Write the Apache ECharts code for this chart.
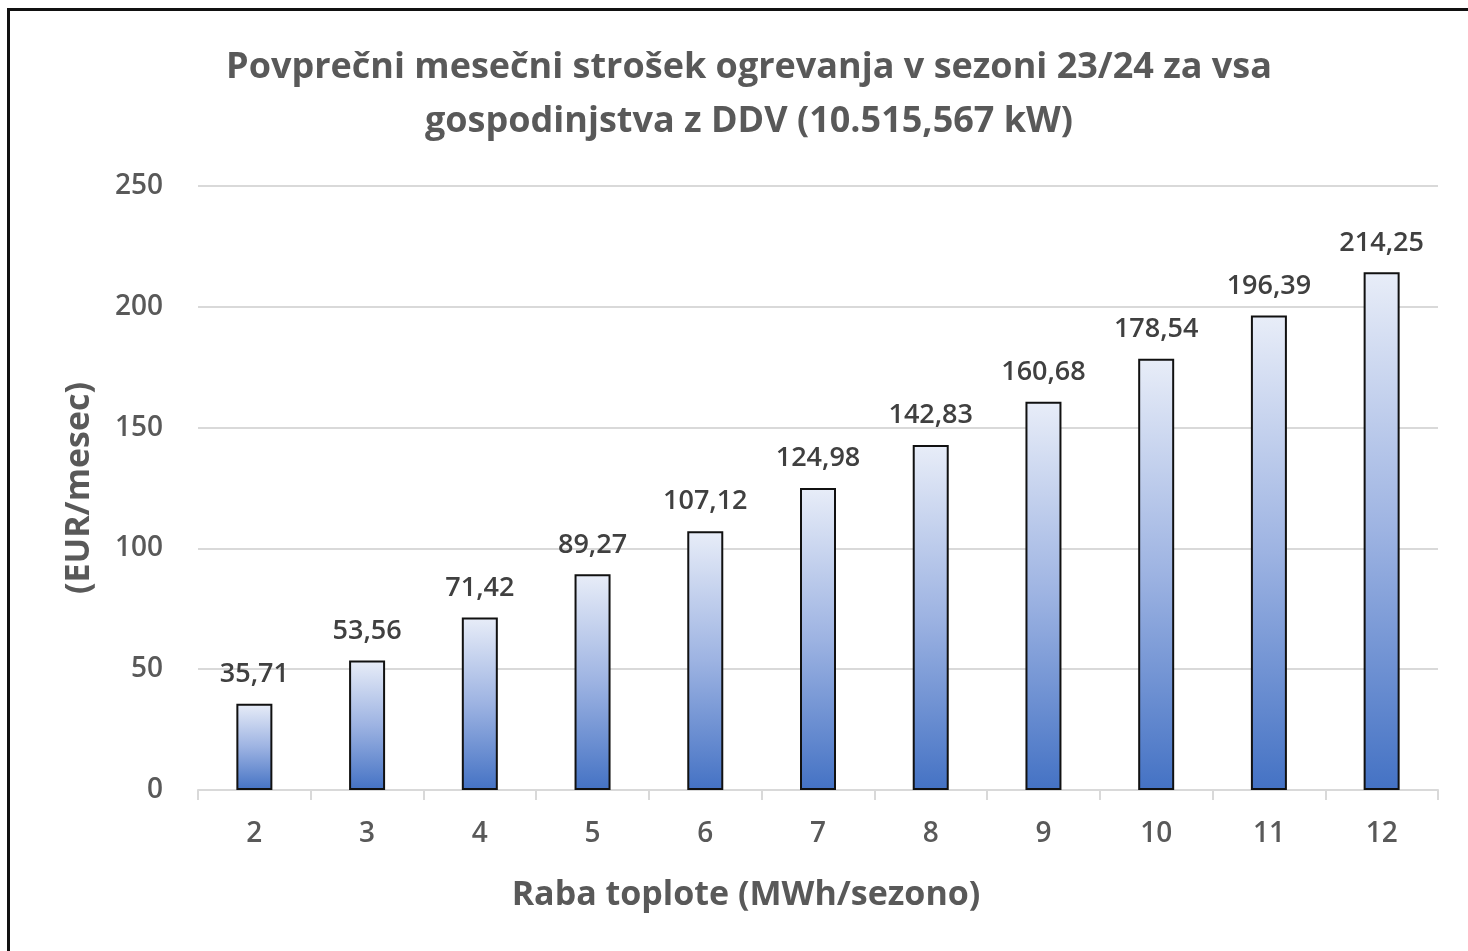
<!DOCTYPE html>
<html>
<head>
<meta charset="utf-8">
<script src="https://cdn.jsdelivr.net/npm/echarts@6/dist/echarts.min.js"></script>
<style>
html,body{margin:0;padding:0;background:#fff;}
#frame{position:absolute;left:7px;top:8px;width:1500px;height:1000px;border:3px solid #111;box-sizing:border-box;}
#main{position:absolute;left:0;top:0;width:1468px;height:951px;}
</style>
</head>
<body>
<div id="frame"></div>
<div id="main"></div>
<script>
// podatki
var categories = ['2', '3', '4', '5', '6', '7', '8', '9', '10', '11', '12'];
var costs = [35.71, 53.56, 71.42, 89.27, 107.12, 124.98, 142.83, 160.68, 178.54, 196.39, 214.25];
var yTicks = [0, 50, 100, 150, 200, 250];

var fontName = '"Open Sans", "Noto Sans", sans-serif';

var option = {
    animation: false,
    title: {
        text: 'Povprečni mesečni strošek ogrevanja v sezoni 23/24 za vsa\ngospodinjstva z DDV (10.515,567 kW)',
        left: 744,
        textAlign: 'center',
        top: 36,
        textStyle: {
            fontFamily: fontName,
            fontSize: 36,
            fontWeight: 'bold',
            color: '#595959',
            lineHeight: 54
        }
    },
    grid: {
        left: 198,
        right: 30,
        top: 186,
        bottom: 161
    },
    xAxis: {
        type: 'category',
        data: categories,
        name: 'Raba toplote (MWh/sezono)',
        nameLocation: 'middle',
        nameGap: 88,
        nameTextStyle: {
            fontFamily: fontName,
            fontSize: 34,
            fontWeight: 'bold',
            color: '#595959',
            padding: [0, 144, 0, 0]
        },
        axisLine: { lineStyle: { color: '#d9d9d9', width: 2 } },
        axisTick: { show: true, length: 10, lineStyle: { color: '#d9d9d9', width: 2 } },
        axisLabel: {
            margin: 30,
            fontFamily: fontName,
            fontSize: 28,
            fontWeight: 600,
            color: '#595959'
        }
    },
    yAxis: {
        type: 'value',
        min: yTicks[0],
        max: yTicks[yTicks.length - 1],
        interval: 50,
        name: '(EUR/mesec)',
        nameLocation: 'middle',
        nameGap: 102,
        nameRotate: 90,
        nameTextStyle: {
            fontFamily: fontName,
            fontSize: 34,
            fontWeight: 'bold',
            color: '#595959'
        },
        axisLine: { show: false },
        axisTick: { show: false },
        axisLabel: {
            margin: 35,
            fontFamily: fontName,
            fontSize: 28,
            fontWeight: 600,
            color: '#595959'
        },
        splitLine: { lineStyle: { color: '#d9d9d9', width: 2 } }
    },
    series: [{
        type: 'bar',
        data: costs,
        barWidth: 36,
        itemStyle: {
            borderColor: '#111',
            borderWidth: 2,
            color: new echarts.graphic.LinearGradient(0, 0, 0, 1, [
                { offset: 0, color: '#e8edf8' },
                { offset: 0.5, color: '#9db3e2' },
                { offset: 1, color: '#4472c4' }
            ])
        },
        label: {
            show: true,
            position: 'top',
            distance: 16,
            fontFamily: fontName,
            fontSize: 27,
            fontWeight: 600,
            color: '#404040',
            formatter: function (p) {
                return p.value.toFixed(2).replace('.', ',');
            }
        }
    }]
};

var myChart = echarts.init(document.getElementById('main'));
myChart.setOption(option);
</script>
</body>
</html>
